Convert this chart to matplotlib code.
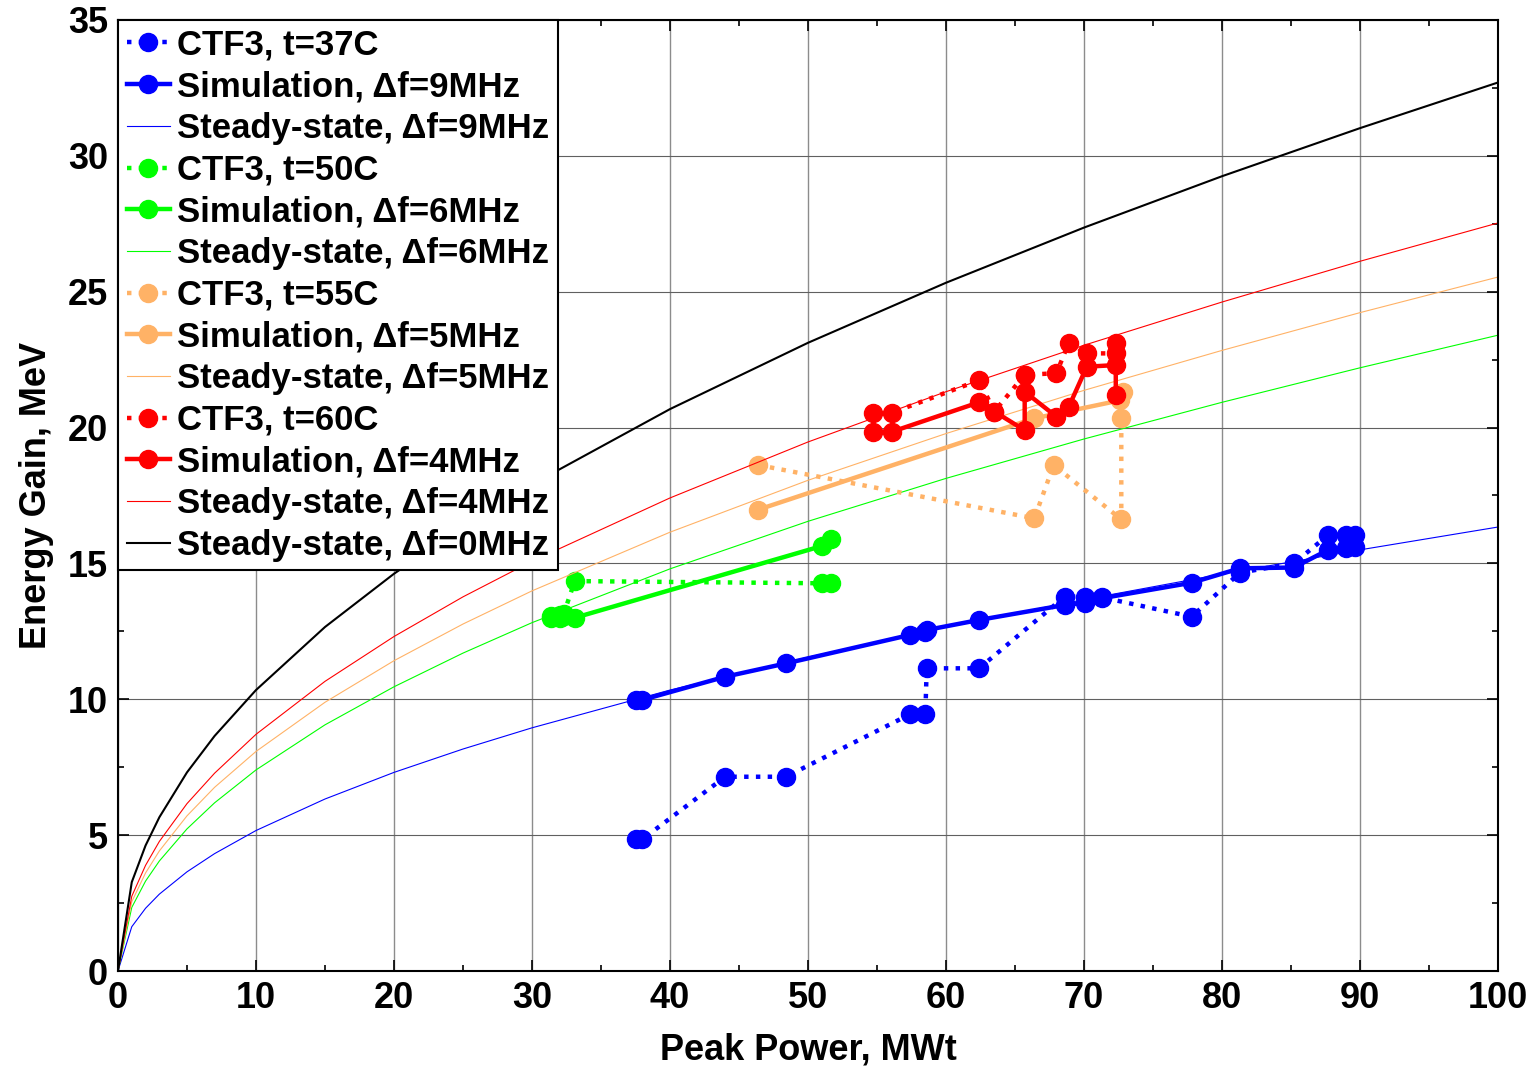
import matplotlib
matplotlib.use('Agg')
import matplotlib.pyplot as plt
from matplotlib.ticker import MultipleLocator

plt.rcParams['font.family'] = ['Liberation Sans', 'DejaVu Sans']
plt.rcParams['font.weight'] = 'bold'

# --- steady-state curves ---
ss_x = [0, 1, 2, 3, 5, 7, 10, 15, 20, 25, 30, 40, 50, 60, 70, 80, 90, 100]
ss_0 = [0, 3.27, 4.62, 5.66, 7.31, 8.65, 10.34, 12.66, 14.62, 16.35, 17.91, 20.68, 23.12, 25.33, 27.36, 29.25, 31.02, 32.70]
ss_4 = [0, 2.75, 3.89, 4.77, 6.16, 7.28, 8.71, 10.66, 12.31, 13.77, 15.08, 17.41, 19.47, 21.32, 23.03, 24.62, 26.12, 27.53]
ss_5 = [0, 2.55, 3.61, 4.42, 5.71, 6.76, 8.08, 9.89, 11.42, 12.77, 13.99, 16.15, 18.06, 19.78, 21.37, 22.84, 24.23, 25.54]
ss_6 = [0, 2.34, 3.31, 4.05, 5.23, 6.19, 7.40, 9.06, 10.46, 11.70, 12.82, 14.80, 16.55, 18.13, 19.58, 20.93, 22.20, 23.40]
ss_9 = [0, 1.63, 2.31, 2.83, 3.65, 4.32, 5.17, 6.33, 7.31, 8.17, 8.95, 10.34, 11.55, 12.66, 13.67, 14.61, 15.50, 16.34]

# --- t=37C / 9 MHz ---
p37 = [37.5, 38.0, 44.0, 48.4, 57.4, 58.5, 58.6, 62.4, 68.6, 70.1, 71.3, 77.8, 81.3, 85.2, 87.7, 89.0, 89.6]
ctf37 = [4.85, 4.85, 7.15, 7.15, 9.45, 9.45, 11.14, 11.14, 13.78, 13.78, 13.75, 13.04, 14.66, 15.0, 16.05, 16.05, 16.05]
sim9 = [9.97, 9.98, 10.83, 11.32, 12.37, 12.49, 12.55, 12.92, 13.47, 13.55, 13.72, 14.29, 14.82, 14.85, 15.5, 15.55, 15.6]

# --- t=50C / 6 MHz ---
p50 = [31.4, 32.0, 32.3, 33.1, 51.0, 51.7]
ctf50 = [13.05, 13.1, 13.15, 14.35, 14.27, 14.27]
sim6 = [13.0, 13.0, 13.05, 13.0, 15.64, 15.89]

# --- t=55C / 5 MHz ---
p55_ctf = [46.4, 66.4, 67.8, 72.7, 72.7]
ctf55 = [18.62, 16.66, 18.62, 16.62, 20.35]
p55_sim = [46.4, 66.4, 72.6, 72.8]
sim5 = [16.98, 20.34, 21.0, 21.3]

# --- t=60C / 4 MHz ---
p60 = [54.7, 56.1, 62.4, 63.5, 65.7, 65.7, 68.0, 68.9, 70.2, 72.3, 72.3]
ctf60 = [20.55, 20.55, 21.74, 20.59, 21.94, 21.94, 22.0, 23.13, 22.73, 22.73, 23.13]
sim4 = [19.85, 19.85, 20.93, 20.59, 19.9, 21.32, 20.4, 20.77, 22.24, 22.3, 21.2]

blue, green, orange, red = '#0000FF', '#00FF00', '#FFB266', '#FF0000'

fig = plt.figure(figsize=(15.36, 10.68), dpi=100)
ax = fig.add_axes([0.0768, 0.0908, 0.8985, 0.8905])

ms, lw_d, lw_s, lw_ss = 13, 3.2, 3.2, 0.8
dot = dict(linestyle=':', marker='o', markersize=ms, linewidth=lw_d)
sol = dict(linestyle='-', marker='o', markersize=ms, linewidth=lw_s)

ax.plot(p37, ctf37, color=blue, label='CTF3, t=37C', **dot)
ax.plot(p37, sim9, color=blue, label='Simulation, Δf=9MHz', **sol)
ax.plot(ss_x, ss_9, color=blue, lw=lw_ss, label='Steady-state, Δf=9MHz')
ax.plot(p50, ctf50, color=green, label='CTF3, t=50C', **dot)
ax.plot(p50, sim6, color=green, label='Simulation, Δf=6MHz', **sol)
ax.plot(ss_x, ss_6, color=green, lw=lw_ss, label='Steady-state, Δf=6MHz')
ax.plot(p55_ctf, ctf55, color=orange, label='CTF3, t=55C', **dot)
ax.plot(p55_sim, sim5, color=orange, label='Simulation, Δf=5MHz', **sol)
ax.plot(ss_x, ss_5, color=orange, lw=lw_ss, label='Steady-state, Δf=5MHz')
ax.plot(p60, ctf60, color=red, label='CTF3, t=60C', **dot)
ax.plot(p60, sim4, color=red, label='Simulation, Δf=4MHz', **sol)
ax.plot(ss_x, ss_4, color=red, lw=lw_ss, label='Steady-state, Δf=4MHz')
ax.plot(ss_x, ss_0, color='black', lw=1.5, label='Steady-state, Δf=0MHz')

ax.set_xlim(0, 100)
ax.set_ylim(0, 35)
ax.xaxis.set_major_locator(MultipleLocator(10))
ax.xaxis.set_minor_locator(MultipleLocator(5))
ax.yaxis.set_major_locator(MultipleLocator(5))
ax.yaxis.set_minor_locator(MultipleLocator(2.5))
ax.tick_params(which='both', direction='in', top=True, right=True, labelsize=26, width=1.2)
ax.tick_params(which='major', length=8, pad=7)
ax.tick_params(which='minor', length=4)
ax.xaxis.grid(True, color='#8c8c8c', lw=1.0)
ax.yaxis.grid(True, color='#606060', lw=0.8)
for s in ax.spines.values():
    s.set_linewidth(1.5)

ax.set_xlabel('Peak Power, MWt', fontsize=26, fontweight='bold', labelpad=12)
ax.set_ylabel('Energy Gain, MeV', fontsize=26, fontweight='bold', labelpad=10)

leg = ax.legend(loc='upper left', fontsize=25, numpoints=1, handlelength=1.25,
                handletextpad=0.2, labelspacing=0.25, borderaxespad=0,
                borderpad=0.25, fancybox=False, framealpha=1, edgecolor='black')
leg.get_frame().set_linewidth(1.5)
for t in leg.get_texts():
    t.set_fontweight('bold')

fig.savefig('out.png', dpi=100)
